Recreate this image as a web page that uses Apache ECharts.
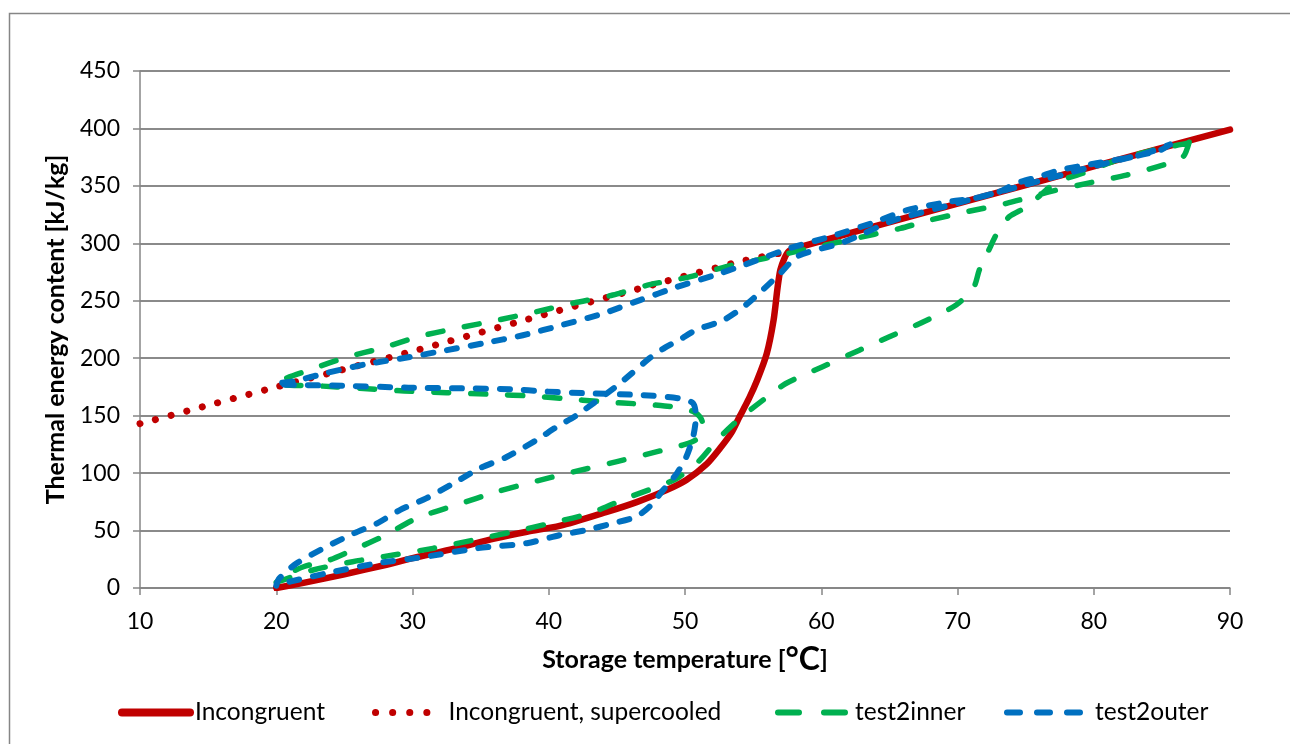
<!DOCTYPE html>
<html>
<head>
<meta charset="utf-8">
<script src="https://cdn.jsdelivr.net/npm/echarts@6/dist/echarts.min.js"></script>
<style>
  html, body { margin: 0; padding: 0; background: #fff; }
  #chart { width: 1290px; height: 744px; }
</style>
</head>
<body>
<div id="chart"></div>
<script>
// ---- Data (temperature °C, energy kJ/kg) ----
const xTicks = [10, 20, 30, 40, 50, 60, 70, 80, 90];
const yTicks = [0, 50, 100, 150, 200, 250, 300, 350, 400, 450];

const incongruent = [
  [20, 0], [22, 4.5], [25, 12], [28, 20], [30, 26], [33, 34], [36, 43], [38.4, 49],
  [40.8, 54], [44.2, 66], [46.5, 75], [48.6, 85], [50.1, 94], [51.6, 108], [52.6, 122],
  [53.4, 135], [54.0, 149], [54.7, 165], [55.3, 181], [56.0, 204], [56.5, 233],
  [56.8, 262], [57.0, 277], [57.3, 287], [57.6, 293], [58.2, 296], [70, 334.5],
  [80, 367], [90, 399]
];

const supercooled = [
  [10, 143], [15, 159], [20, 175], [30, 206], [40, 239], [48, 265], [54, 284], [57.6, 293]
];

const test2inner = [
  [87, 388], [86.6, 376], [85.6, 370], [82.4, 359.4], [79.5, 352.2], [76.8, 345],
  [73.6, 334.8], [70.7, 327.5], [68, 320.3], [65.8, 313], [62, 303], [58.7, 294.3],
  [55.9, 287], [53.1, 280], [50.4, 271], [47.4, 264], [44.7, 255], [41.8, 248],
  [39.1, 240.5], [36.2, 233], [33.2, 226], [30.5, 219], [27.8, 209], [25.2, 201],
  [22.5, 190], [20, 178],
  [21, 176.5], [22.9, 176], [26, 174], [29.4, 171.5], [32.5, 170], [35.8, 168.6],
  [38.9, 167], [41.0, 165], [44, 162], [46.9, 160], [48.5, 158.5], [49.9, 156.4],
  [50.7, 153], [51.1, 149], [51.3, 143], [51.3, 137.5], [50.8, 129], [50, 125],
  [48.4, 120], [45, 110], [41.8, 101], [38.9, 92.5], [36.2, 83.8], [33.2, 72.2],
  [30.3, 60.7], [27.8, 44.7], [25.6, 33], [23.9, 24.4], [22, 18.5], [20.5, 10], [20, 5],
  [21, 9], [22.7, 15.7], [25.6, 22.9], [28.6, 28.7], [31.5, 34.5], [34.5, 41.8],
  [37.4, 49], [40.1, 56.3], [43, 65], [46, 79.5], [48.6, 91], [49.6, 96.9], [51.1, 111.4],
  [52.3, 128], [53.5, 142], [54.8, 155], [56, 166], [57.4, 178], [60.1, 192.6],
  [62.8, 207], [65, 218.7], [67, 229], [69.9, 246.3], [71.2, 262], [71.6, 276.8],
  [72.3, 294.2], [72.9, 308.7], [73.8, 323.2], [75.1, 331.9], [76.5, 346.4],
  [77.3, 353.6], [79.2, 361], [81.7, 372.5], [84.4, 381.2], [86.8, 387], [87, 388]
];

const test2outer = [
  [85.6, 386], [84.9, 381.2], [82.9, 375.4], [80.9, 371.1], [79.5, 368.2], [77.5, 363.8],
  [76.0, 358], [74.3, 352.2], [73.1, 345], [71.2, 339.1], [69.4, 336.2], [66.3, 328.9],
  [63.7, 317.5], [60.7, 306], [57.7, 295.8], [54.3, 281], [52.1, 272], [49.4, 262],
  [46.7, 250.6], [44, 239], [41.0, 229], [38.1, 220], [35.2, 213], [32.5, 207],
  [29.8, 201], [26.6, 194.8], [23.8, 187.5], [21.3, 180], [20, 178],
  [20.7, 177], [24.9, 176], [29.7, 174.4], [33.6, 173.8], [37.2, 173], [39.8, 171],
  [43, 169.4], [46.7, 168], [49.6, 165], [50.6, 160.7], [50.8, 149], [50.6, 131.7],
  [50.1, 114.3], [49.4, 99.8], [48.4, 85.3], [47.4, 70.8], [46.4, 62], [44.7, 56.3],
  [42.8, 50.5], [40.8, 46], [38.4, 39], [34.7, 34.5], [31, 27.3], [27.4, 21.5],
  [23.7, 12.8], [21, 5.5], [20, 2],
  [20.2, 8], [21.5, 21.5], [23.7, 36], [25.7, 47.6], [27.4, 56.3], [29.1, 68], [31, 78],
  [33, 91], [34.9, 104], [36.9, 114], [39.1, 128.8], [40.6, 140.4], [42, 150], [45, 176],
  [47.4, 200], [48.5, 209], [49.6, 216], [50.8, 224.5], [52.8, 233], [54.3, 244.8],
  [55.7, 259.4], [57, 274], [58.2, 288.3], [59.6, 294.2], [61.4, 300], [63.2, 309],
  [65.3, 320], [70, 335], [75, 351], [80, 367], [84, 379], [85.6, 386]
];

const seriesNames = ['Incongruent', 'Incongruent, supercooled', 'test2inner', 'test2outer'];

const FONT = 'Lato';
const chart = echarts.init(document.getElementById('chart'), null, { renderer: 'canvas' });

const legendBase = {
  orient: 'horizontal', top: 695, itemHeight: 14,
  textStyle: { fontFamily: FONT, fontSize: 24.5, color: '#000' },
  itemStyle: { opacity: 0, color: 'transparent', borderWidth: 0 }
};

chart.setOption({
  animation: false,
  backgroundColor: '#fff',
  graphic: [{
    type: 'rect', left: 7, top: 11, z: -1,
    shape: { width: 1300, height: 760 },
    style: { fill: 'none', stroke: '#868686', lineWidth: 1.5 }
  }],
  grid: { left: 140, right: 60, top: 71, bottom: 156, containLabel: false },
  legend: [
    Object.assign({}, legendBase, { left: 113, itemWidth: 68, data: [seriesNames[0]],
      lineStyle: { width: 8, cap: 'round' } }),
    Object.assign({}, legendBase, { left: 367, itemWidth: 68, data: [seriesNames[1]],
      lineStyle: { width: 7, type: [0.1, 17], cap: 'round' } }),
    Object.assign({}, legendBase, { left: 770, itemWidth: 72, data: [seriesNames[2]],
      lineStyle: { width: 6, type: [21, 25], cap: 'round' } }),
    Object.assign({}, legendBase, { left: 999, itemWidth: 83, data: [seriesNames[3]],
      lineStyle: { width: 6, type: [13, 17], cap: 'round' } })
  ],
  xAxis: {
    type: 'value', min: xTicks[0], max: xTicks[xTicks.length - 1], interval: 10,
    name: 'Storage temperature [{u|°C}]',
    nameLocation: 'middle', nameGap: 56,
    nameTextStyle: {
      fontFamily: FONT, fontSize: 25, fontWeight: 'bold', color: '#000',
      rich: { u: { fontFamily: FONT, fontSize: 32, fontWeight: 'bold', color: '#000' } }
    },
    axisLine: { show: true, lineStyle: { color: '#868686', width: 1.5 } },
    axisTick: { show: true, length: 7, lineStyle: { color: '#868686', width: 1.5 } },
    axisLabel: { fontFamily: FONT, fontSize: 23, color: '#000', margin: 22 },
    splitLine: { show: false }
  },
  yAxis: {
    type: 'value', min: yTicks[0], max: yTicks[yTicks.length - 1], interval: 50,
    name: 'Thermal energy content [kJ/kg]',
    nameLocation: 'middle', nameGap: 72,
    nameTextStyle: { fontFamily: FONT, fontSize: 25, fontWeight: 'bold', color: '#000' },
    axisLine: { show: true, lineStyle: { color: '#868686', width: 1.5 } },
    axisTick: { show: true, length: 7, lineStyle: { color: '#868686', width: 1.5 } },
    axisLabel: { fontFamily: FONT, fontSize: 23, color: '#000', margin: 20 },
    splitLine: { show: true, lineStyle: { color: '#8a8a8a', width: 1.8 } }
  },
  series: [
    {
      name: seriesNames[0], type: 'line', data: incongruent, symbol: 'none', smooth: 0.25,
      lineStyle: { color: '#C00000', width: 6.5, cap: 'round', join: 'round' },
      itemStyle: { color: '#C00000' }
    },
    {
      name: seriesNames[1], type: 'line', data: supercooled, symbol: 'none', smooth: 0.2,
      lineStyle: { color: '#C00000', width: 7, type: [0.1, 16], cap: 'round', join: 'round' },
      itemStyle: { color: '#C00000' }
    },
    {
      name: seriesNames[2], type: 'line', data: test2inner, symbol: 'none', smooth: 0.25,
      lineStyle: { color: '#00B050', width: 5.5, type: [15, 22], cap: 'round', join: 'round' },
      itemStyle: { color: '#00B050' }
    },
    {
      name: seriesNames[3], type: 'line', data: test2outer, symbol: 'none', smooth: 0.25,
      lineStyle: { color: '#0070C0', width: 6, type: [10, 14], cap: 'round', join: 'round' },
      itemStyle: { color: '#0070C0' }
    }
  ]
});
</script>
</body>
</html>
